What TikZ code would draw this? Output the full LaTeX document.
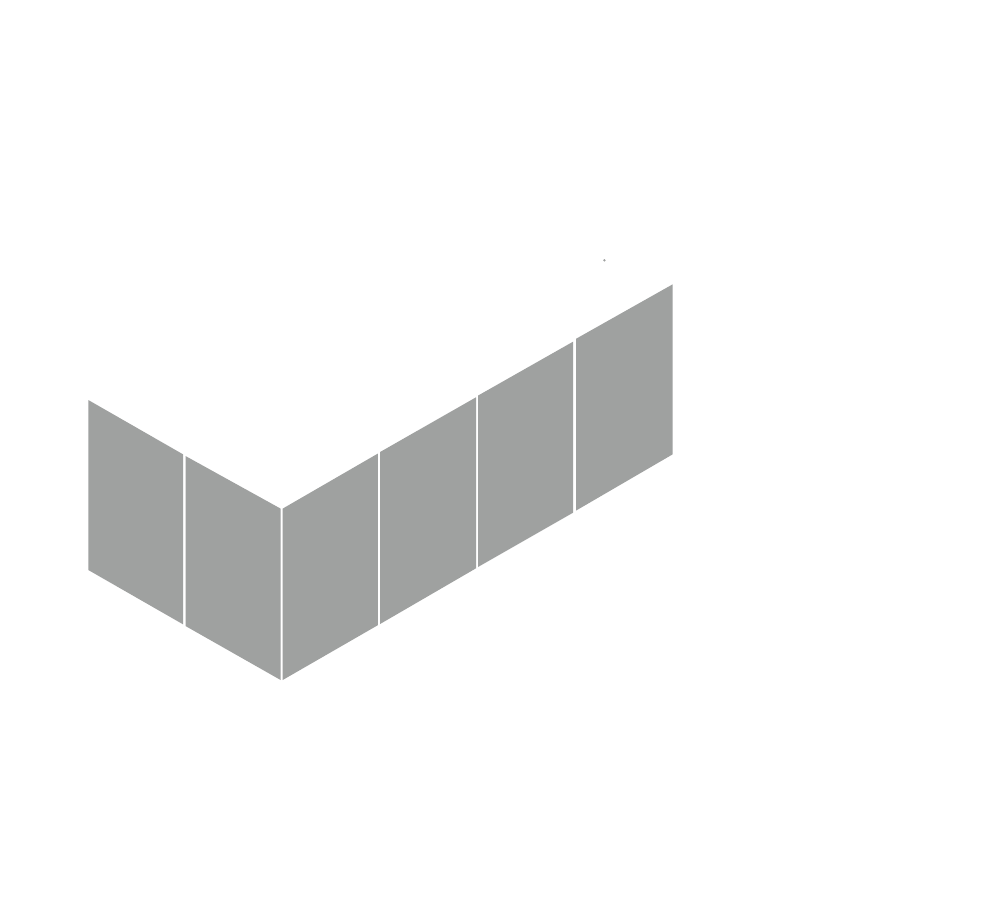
\documentclass[tikz,border=0pt]{standalone}
\definecolor{panelgrey}{HTML}{9FA1A0}
\tikzset{panel/.style={fill=panelgrey,draw=none}}
\begin{document}
\begin{tikzpicture}[x=1pt,y=-1pt]
\useasboundingbox (0,0) rectangle (1000,918);
\fill[white] (0,0) rectangle (1000,918);
% left wall
\path[panel] (88.3,400) -- (183,454.3) -- (183,624.3) -- (88.3,570) -- cycle;
\path[panel] (185.5,456) -- (280.6,508.6) -- (280.6,680) -- (185.5,626) -- cycle;
% right wall
\path[panel] (282.7,508.6) -- (377.8,453.6) -- (377.8,625.2) -- (282.7,680) -- cycle;
\path[panel] (380.1,452) -- (476,397.3) -- (476,568.3) -- (380.1,624) -- cycle;
\path[panel] (478,395.6) -- (573.2,341.6) -- (573.2,512.6) -- (478,567) -- cycle;
\path[panel] (576,338.8) -- (672.7,284.3) -- (672.7,454.3) -- (576,510.6) -- cycle;
% speck
\fill[panelgrey] (604.4,260.3) circle (1.3pt);
\end{tikzpicture}
\end{document}
